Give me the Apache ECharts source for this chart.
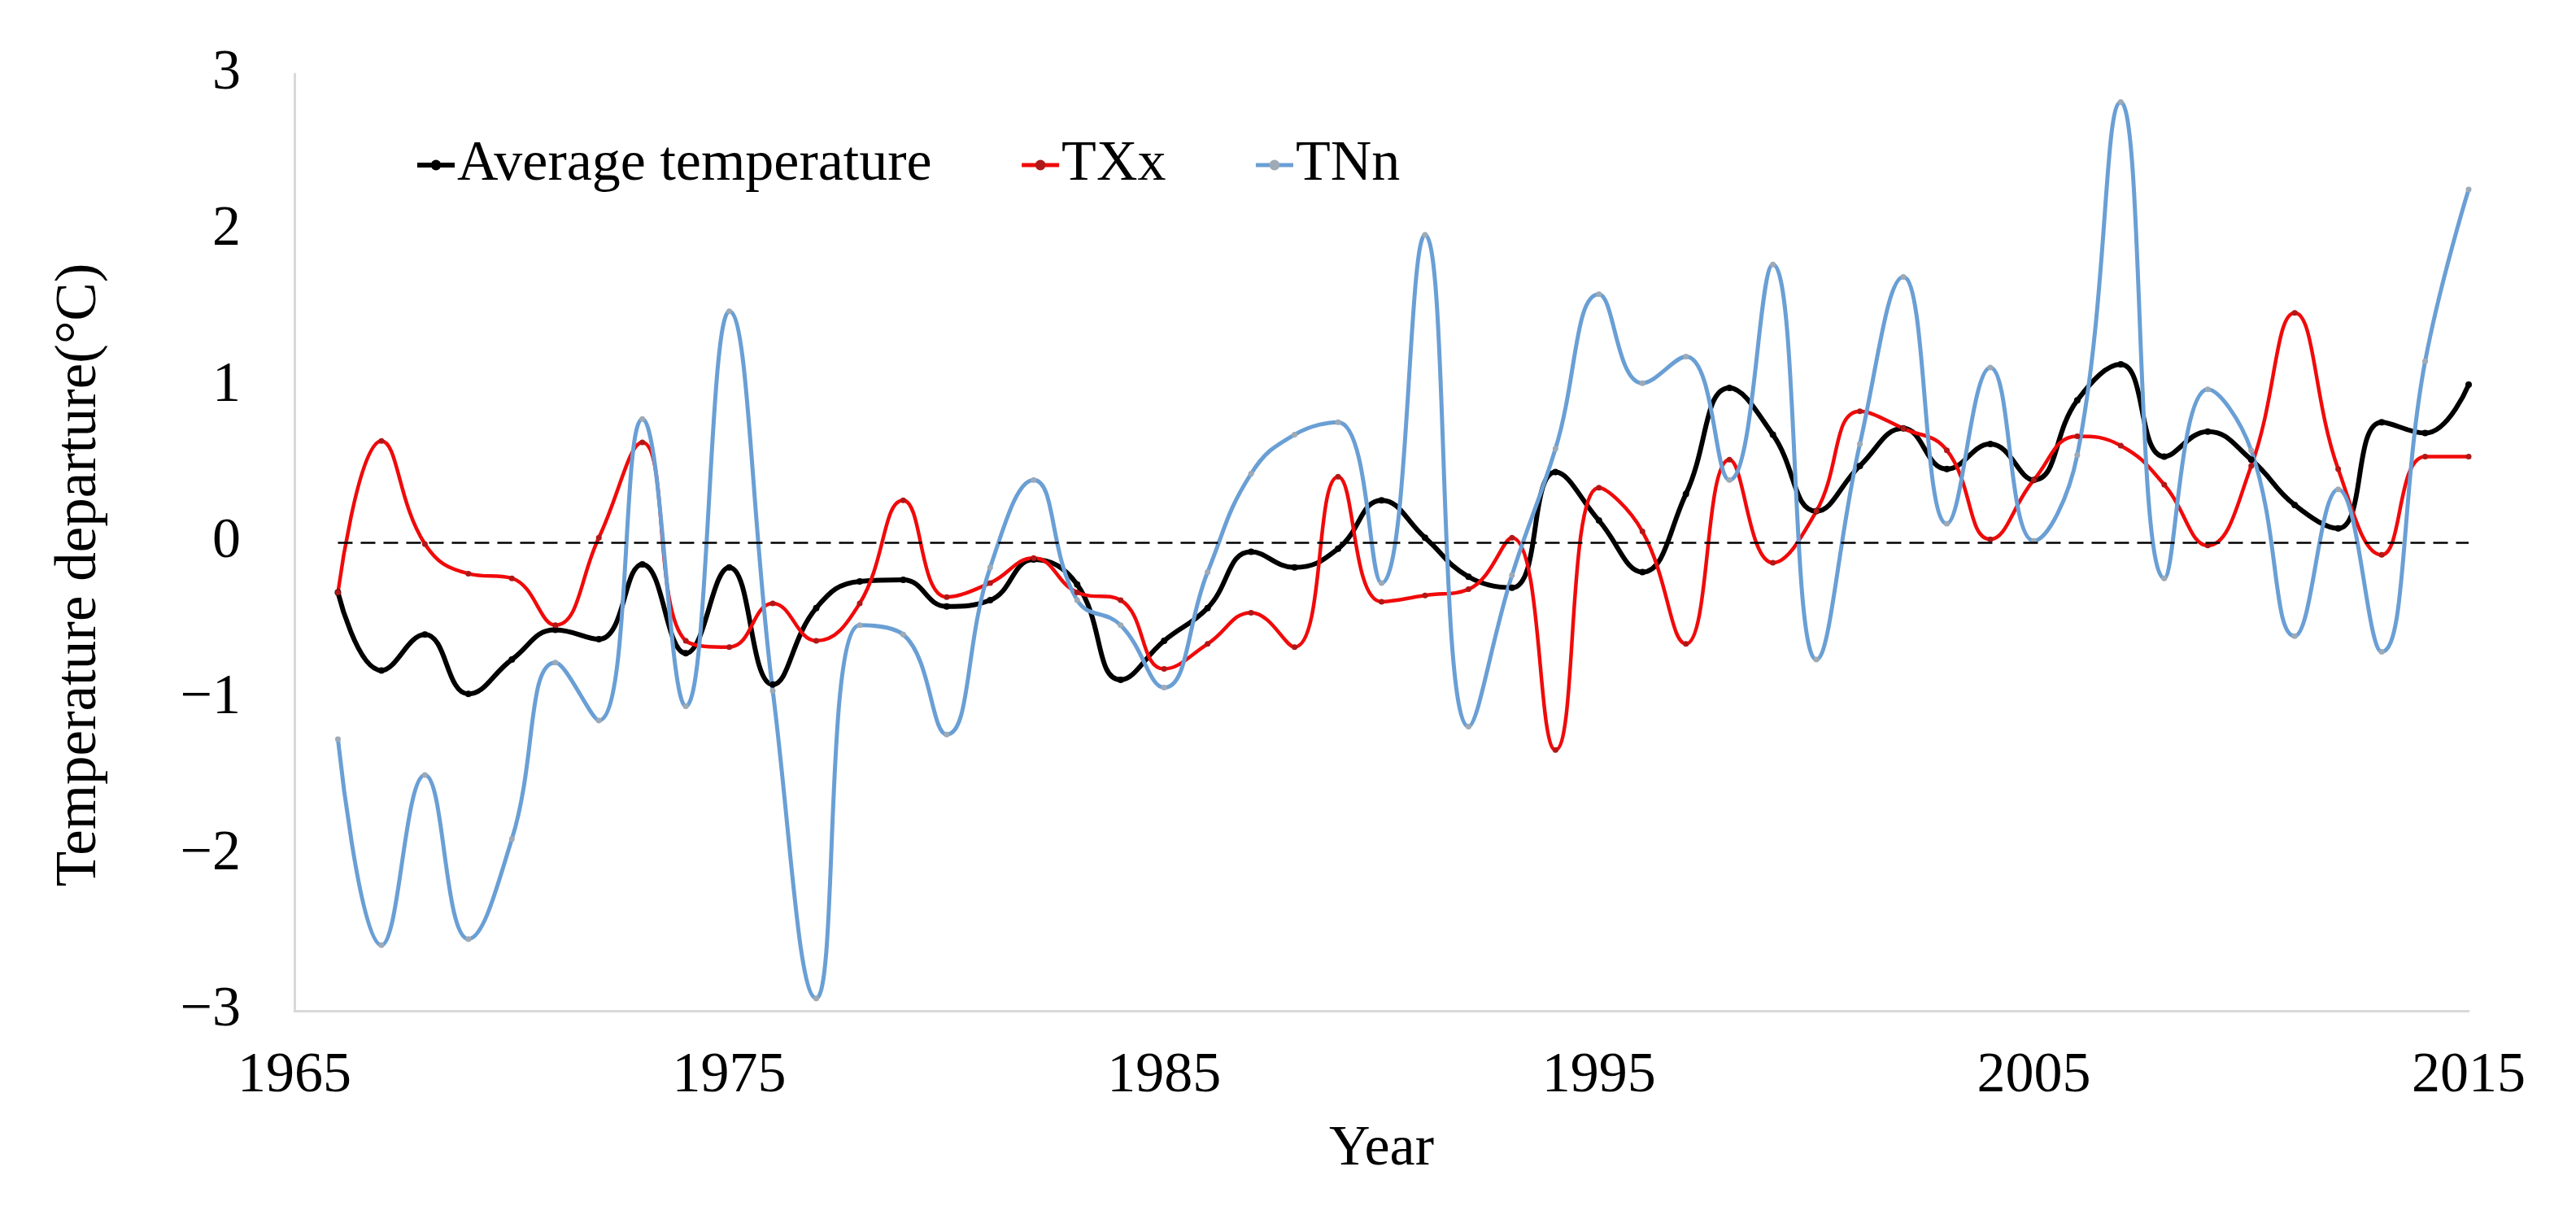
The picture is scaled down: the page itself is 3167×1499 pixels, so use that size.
<!DOCTYPE html>
<html lang="en">

<head>
    <meta charset="UTF-8">
    <title>Temperature departure</title>
    <style>
        html, body {
            margin: 0;
            padding: 0;
            background: #ffffff;
        }

        #myEcharts {
            width: 3167px;
            height: 1499px;
        }
    </style>
    <script src="https://cdn.jsdelivr.net/npm/echarts@6/dist/echarts.min.js"></script>
</head>

<body>
    <div id="myEcharts"></div>

    <script>
        // years on the x axis (1966 - 2015)
        var years = [
            1966, 1967, 1968, 1969, 1970, 1971, 1972, 1973, 1974, 1975,
            1976, 1977, 1978, 1979, 1980, 1981, 1982, 1983, 1984, 1985,
            1986, 1987, 1988, 1989, 1990, 1991, 1992, 1993, 1994, 1995,
            1996, 1997, 1998, 1999, 2000, 2001, 2002, 2003, 2004, 2005,
            2006, 2007, 2008, 2009, 2010, 2011, 2012, 2013, 2014, 2015
        ];

        // average temperature departure
        var avgTemp = [
            -0.32, -0.82, -0.59, -0.97, -0.75, -0.56, -0.62, -0.14, -0.71, -0.16,
            -0.91, -0.42, -0.25, -0.24, -0.41, -0.37, -0.11, -0.27, -0.88, -0.63,
            -0.42, -0.06, -0.16, -0.04, 0.27, 0.03, -0.22, -0.29, 0.45, 0.14,
            -0.19, 0.31, 0.99, 0.69, 0.20, 0.49, 0.73, 0.47, 0.63, 0.40,
            0.91, 1.14, 0.55, 0.71, 0.53, 0.24, 0.09, 0.77, 0.70, 1.01
        ];

        // TXx departure
        var txx = [
            -0.32, 0.65, -0.01, -0.20, -0.23, -0.53, 0.03, 0.64, -0.63, -0.67,
            -0.39, -0.63, -0.39, 0.27, -0.35, -0.26, -0.10, -0.32, -0.37, -0.81,
            -0.65, -0.45, -0.67, 0.42, -0.38, -0.34, -0.30, 0.03, -1.33, 0.35,
            0.07, -0.65, 0.53, -0.13, 0.20, 0.84, 0.73, 0.59, 0.02, 0.40,
            0.68, 0.62, 0.37, -0.02, 0.49, 1.47, 0.47, -0.08, 0.55, 0.55
        ];

        // TNn departure
        var tnn = [
            -1.26, -2.58, -1.49, -2.54, -1.90, -0.77, -1.14, 0.79, -1.05, 1.48,
            -0.95, -2.92, -0.53, -0.59, -1.23, -0.16, 0.40, -0.37, -0.53, -0.93,
            -0.19, 0.44, 0.69, 0.77, -0.26, 1.97, -1.18, -0.21, 0.60, 1.59,
            1.02, 1.19, 0.40, 1.78, -0.75, 0.63, 1.70, 0.12, 1.12, 0.01,
            0.56, 2.82, -0.23, 0.98, 0.59, -0.60, 0.34, -0.70, 1.16, 2.26
        ];

        var serifFont = "'Liberation Serif', 'Times New Roman', serif";

        function pairs(values) {
            var out = [];
            for (var i = 0; i < years.length; i++) {
                out.push([years[i], values[i]]);
            }
            return out;
        }

        var myChart = echarts.init(document.getElementById('myEcharts'));

        var option = {
            backgroundColor: '#ffffff',
            animation: false,
            textStyle: {
                fontFamily: serifFont,
                color: '#000000'
            },
            grid: {
                left: 362,
                right: 132,
                top: 91,
                bottom: 256
            },
            legend: {
                left: 505,
                top: 163,
                itemWidth: 46,
                itemHeight: 16,
                itemGap: 108,
                data: [
                    { name: 'Average temperature', lineStyle: { width: 6 } },
                    { name: 'TXx', lineStyle: { width: 5 } },
                    { name: 'TNn', lineStyle: { width: 5 } }
                ],
                textStyle: {
                    fontFamily: serifFont,
                    fontSize: 70,
                    color: '#000000',
                    padding: [0, 0, 0, -2]
                }
            },
            xAxis: {
                type: 'value',
                min: 1965,
                max: 2015,
                interval: 10,
                name: 'Year',
                nameLocation: 'middle',
                nameGap: 136,
                nameTextStyle: {
                    fontFamily: serifFont,
                    fontSize: 70,
                    color: '#000000'
                },
                axisLine: {
                    onZero: false,
                    lineStyle: { color: '#d9d9d9', width: 3 }
                },
                axisTick: { show: false },
                splitLine: { show: false },
                axisLabel: {
                    fontFamily: serifFont,
                    fontSize: 70,
                    color: '#000000',
                    margin: 46,
                    formatter: function (v) {
                        return String(v);
                    }
                }
            },
            yAxis: {
                type: 'value',
                min: -3,
                max: 3,
                interval: 1,
                name: 'Temperature departure(°C)',
                nameLocation: 'middle',
                nameGap: 228,
                nameTextStyle: {
                    fontFamily: serifFont,
                    fontSize: 71,
                    color: '#000000',
                    padding: [0, 0, 0, -80]
                },
                axisLine: {
                    show: true,
                    lineStyle: { color: '#d9d9d9', width: 3 }
                },
                axisTick: { show: false },
                splitLine: { show: false },
                axisLabel: {
                    fontFamily: serifFont,
                    fontSize: 70,
                    color: '#000000',
                    margin: 66,
                    formatter: function (v) {
                        return v < 0 ? '\u2212' + Math.abs(v) : String(v);
                    }
                }
            },
            series: [
                {
                    name: 'Average temperature',
                    type: 'line',
                    smooth: 0.45,
                    data: pairs(avgTemp),
                    symbol: 'circle',
                    symbolSize: 8,
                    itemStyle: { color: '#000000' },
                    lineStyle: { color: '#000000', width: 6 },
                    markLine: {
                        silent: true,
                        symbol: ['none', 'none'],
                        label: { show: false },
                        lineStyle: { color: '#000000', width: 2.5, type: [18, 10] },
                        data: [
                            [{ coord: [1966, 0] }, { coord: [2015, 0] }]
                        ]
                    }
                },
                {
                    name: 'TXx',
                    type: 'line',
                    smooth: 0.45,
                    data: pairs(txx),
                    symbol: 'circle',
                    symbolSize: 7,
                    itemStyle: { color: '#b01818' },
                    lineStyle: { color: '#f00a0a', width: 4.5 }
                },
                {
                    name: 'TNn',
                    type: 'line',
                    smooth: 0.45,
                    data: pairs(tnn),
                    symbol: 'circle',
                    symbolSize: 7,
                    itemStyle: { color: '#9eaab6' },
                    lineStyle: { color: '#6a9fd5', width: 5 }
                }
            ]
        };

        myChart.setOption(option);
    </script>
</body>

</html>
